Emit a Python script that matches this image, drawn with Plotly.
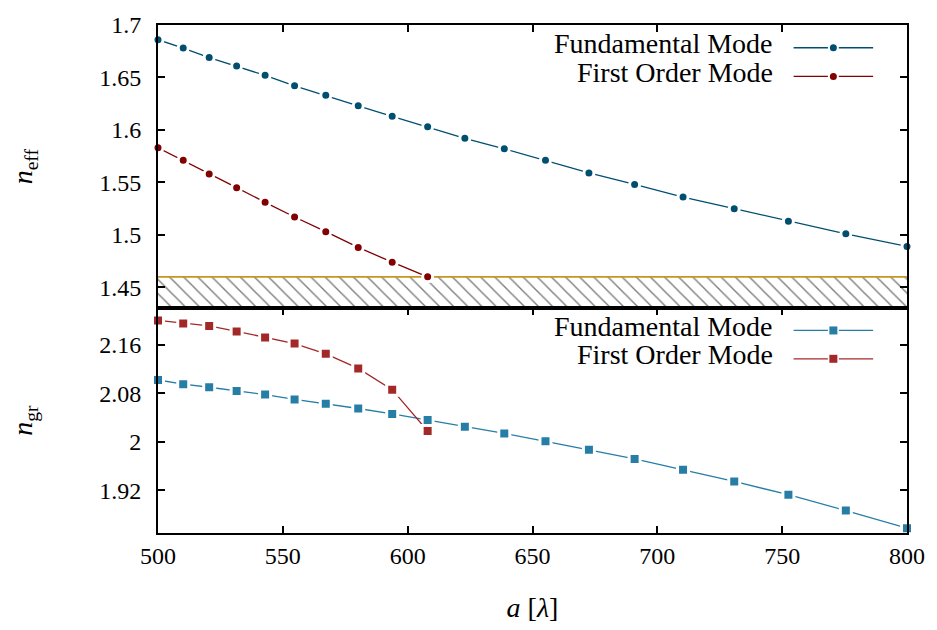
import plotly.graph_objects as go

# ---------------- data ----------------
a_fund = [500.0, 510.1, 520.5, 531.5, 542.9, 554.7, 567.2, 580.2, 593.8, 608.0,
          622.9, 638.7, 655.2, 672.6, 690.9, 710.3, 730.8, 752.5, 775.5, 800.0]
neff_fund = [1.686, 1.678, 1.669, 1.661, 1.652, 1.642, 1.633, 1.623, 1.613, 1.603,
             1.592, 1.582, 1.571, 1.559, 1.548, 1.536, 1.525, 1.513, 1.501, 1.489]
a_first = [500.0, 510.1, 520.5, 531.5, 542.9, 554.7, 567.2, 580.2, 593.8, 608.0]
neff_first = [1.583, 1.571, 1.558, 1.545, 1.531, 1.517, 1.503, 1.488, 1.474, 1.460]
ngr_fund = [2.102, 2.095, 2.090, 2.084, 2.078, 2.070, 2.063, 2.055, 2.046, 2.036,
            2.025, 2.014, 2.001, 1.987, 1.972, 1.954, 1.935, 1.913, 1.887, 1.858]
ngr_first = [2.200, 2.195, 2.191, 2.182, 2.172, 2.162, 2.145, 2.121, 2.086, 2.018]

cladding_index = 1.46
neff_floor = 1.43
a_range = [500, 800]

x_ticks = [500, 550, 600, 650, 700, 750, 800]
neff_ticks = [1.45, 1.5, 1.55, 1.6, 1.65, 1.7]
neff_ticktext = ["1.45", "1.5", "1.55", "1.6", "1.65", "1.7"]
ngr_ticks = [1.92, 2.0, 2.08, 2.16]
ngr_ticktext = ["1.92", "2", "2.08", "2.16"]

legend_labels = ["Fundamental Mode", "First Order Mode"]

# ---------------- style ----------------
FONT = "Liberation Serif"
C_TOP_BLUE = "#004f70"
C_TOP_RED = "#820000"
C_BOT_BLUE = "#267da6"
C_BOT_RED = "#a32828"
C_GOLD = "#c8961e"

fig = go.Figure()

# hatched cladding region
fig.add_trace(go.Scatter(
    x=[a_range[0], a_range[1], a_range[1], a_range[0], a_range[0]],
    y=[neff_floor, neff_floor, cladding_index, cladding_index, neff_floor],
    fill="toself", mode="lines", line=dict(width=0, color="rgba(0,0,0,0)"),
    fillcolor="white",
    fillpattern=dict(shape="\\", size=10, solidity=0.14, fgcolor="black", bgcolor="white"),
    xaxis="x", yaxis="y", showlegend=False, hoverinfo="skip"))
fig.add_trace(go.Scatter(
    x=a_range, y=[cladding_index, cladding_index], mode="lines",
    line=dict(color=C_GOLD, width=1.8), xaxis="x", yaxis="y",
    showlegend=False, hoverinfo="skip"))


def series(x, y, color, symbol, size, xa, ya, name):
    return go.Scatter(
        x=x, y=y, mode="lines+markers", name=name,
        line=dict(color=color, width=1.3),
        marker=dict(symbol=symbol, size=size, color=color,
                    line=dict(color="white", width=3)),
        xaxis=xa, yaxis=ya, showlegend=False, cliponaxis=False)


fig.add_trace(series(a_fund, neff_fund, C_TOP_BLUE, "circle", 10, "x", "y", legend_labels[0]))
fig.add_trace(series(a_first, neff_first, C_TOP_RED, "circle", 10, "x", "y", legend_labels[1]))
fig.add_trace(series(a_fund, ngr_fund, C_BOT_BLUE, "square", 11, "x2", "y2", legend_labels[0]))
fig.add_trace(series(a_first, ngr_first, C_BOT_RED, "square", 11, "x2", "y2", legend_labels[1]))

# ---------------- gnuplot-style legends (text left, sample right) ----------------
annotations = []
shapes = []
legend_rows = [
    (0.9552, C_TOP_BLUE, "circle"),
    (0.8987, C_TOP_RED, "circle"),
    (0.3987, C_BOT_BLUE, "square"),
    (0.3429, C_BOT_RED, "square"),
]
for i, (yy, col, sym) in enumerate(legend_rows):
    annotations.append(dict(
        xref="paper", yref="paper", x=0.8234, y=yy + 0.008, xanchor="right", yanchor="middle",
        text=legend_labels[i % 2], showarrow=False,
        font=dict(family=FONT, size=28, color="black")))
    shapes.append(dict(type="line", xref="paper", yref="paper",
                       x0=0.8486, x1=0.9548, y0=yy, y1=yy,
                       line=dict(color=col, width=1.3)))
    shapes.append(dict(type="circle" if sym == "circle" else "rect",
                       xref="paper", yref="paper",
                       xsizemode="pixel", ysizemode="pixel",
                       xanchor=0.9017, yanchor=yy,
                       x0=-5.5, x1=5.5, y0=-5.5, y1=5.5,
                       fillcolor="white", line=dict(width=0)))
    r = 3.5 if sym == "circle" else 4
    shapes.append(dict(type="circle" if sym == "circle" else "rect",
                       xref="paper", yref="paper",
                       xsizemode="pixel", ysizemode="pixel",
                       xanchor=0.9017, yanchor=yy,
                       x0=-r, x1=r, y0=-r, y1=r,
                       fillcolor=col, line=dict(width=0)))

axis_common = dict(showline=True, linecolor="black", linewidth=2,
                   ticks="inside", ticklen=7, tickwidth=1.5, tickcolor="black",
                   showgrid=False, zeroline=False,
                   tickfont=dict(family=FONT, size=24, color="black"))

split = 0.4423
fig.update_layout(
    width=937, height=630,
    margin=dict(l=158, r=26, t=19, b=91),
    paper_bgcolor="white", plot_bgcolor="white",
    showlegend=False,
    xaxis=dict(axis_common, domain=[0, 1], range=a_range, anchor="y",
               tickvals=x_ticks, showticklabels=False, side="top", mirror=True),
    yaxis=dict(axis_common, domain=[split, 1], range=[neff_floor, 1.7], anchor="x",
               tickvals=neff_ticks, ticktext=neff_ticktext, mirror="ticks",
               ticklabelstandoff=10,
               title=dict(text="<i>n</i><sub>eff</sub>", standoff=58,
                          font=dict(family=FONT, size=28, color="black"))),
    xaxis2=dict(axis_common, domain=[0, 1], range=a_range, anchor="y2",
                tickvals=x_ticks, mirror="ticks", ticklabelstandoff=0,
                title=dict(text="<i>a</i> [<i>λ</i>]", standoff=30,
                           font=dict(family=FONT, size=28, color="black"))),
    yaxis2=dict(axis_common, domain=[0, split], range=[1.85, 2.22], anchor="x2",
                tickvals=ngr_ticks, ticktext=ngr_ticktext, mirror="ticks",
                ticklabelstandoff=10,
                title=dict(text="<i>n</i><sub>gr</sub>", standoff=58,
                           font=dict(family=FONT, size=28, color="black"))),
    annotations=annotations,
    shapes=shapes,
)

fig.write_html("out.html")
